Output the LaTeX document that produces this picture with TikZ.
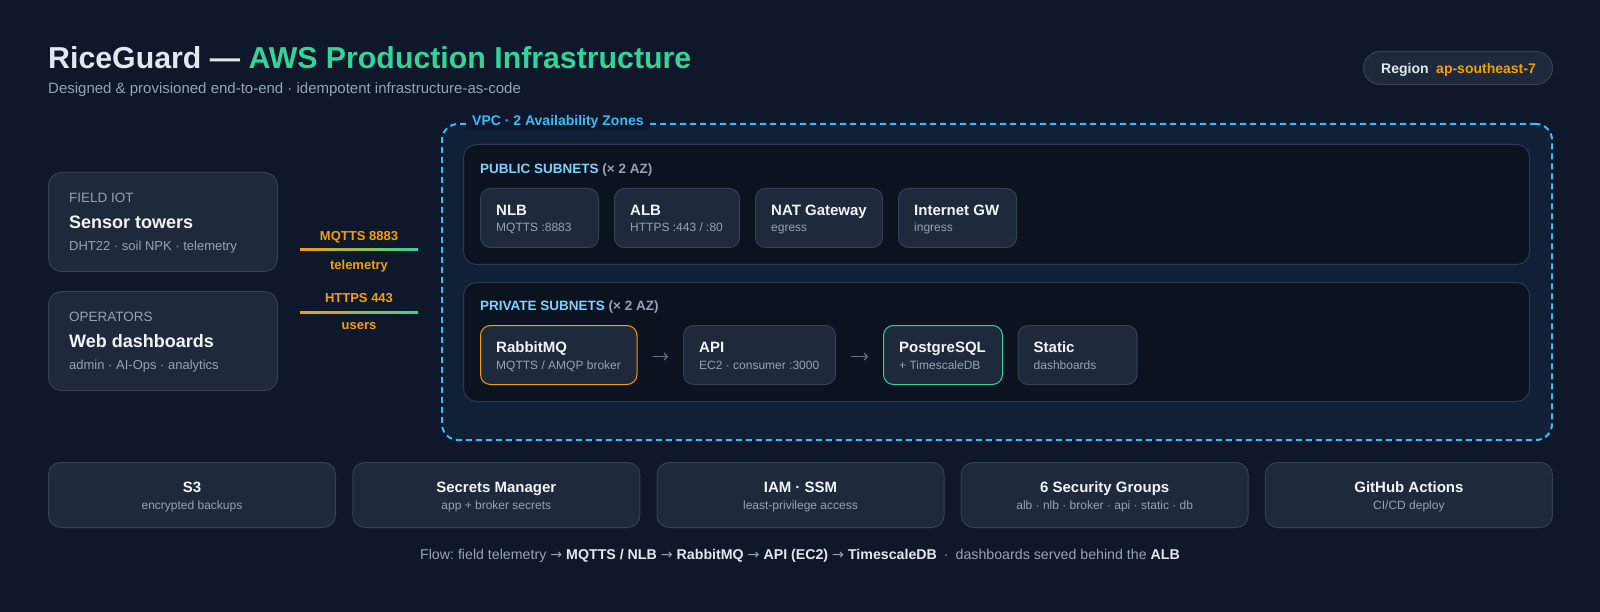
\documentclass[tikz,border=0pt]{standalone}
\usepackage{fontspec}
\setmainfont{Liberation Sans}
\newfontfamily\arrowfont{DejaVu Sans}
\usetikzlibrary{arrows.meta}
\definecolor{bgc}{HTML}{0F172A}
\definecolor{cardfill}{HTML}{1E293B}
\definecolor{cardline}{HTML}{334155}
\definecolor{vpcfill}{HTML}{111F37}
\definecolor{subfill}{HTML}{0B1220}
\definecolor{subline}{HTML}{2B3A50}
\definecolor{sky}{HTML}{38BDF8}
\definecolor{skylt}{HTML}{7DD3FC}
\definecolor{muted}{HTML}{94A3B8}
\definecolor{textc}{HTML}{E2E8F0}
\definecolor{titlec}{HTML}{F1F5F9}
\definecolor{amber}{HTML}{F59E0B}
\definecolor{emerald}{HTML}{34D399}
\definecolor{arrowc}{HTML}{64748B}
\newcommand{\fsz}[1]{\fontsize{#1}{#1}\selectfont}
\newcommand{\ra}{{\arrowfont →}}
\newcommand{\svcbox}[7]{%
  \node[svc, minimum width=#4pt, #7] (#1) at (#2,#3) {};
  \node[lbl, font=\fsz{15}\bfseries, text=titlec] (#1-t) at ([xshift=16pt,yshift=-27.5pt]#1.north west) {#5};
  \node[lbl, font=\fsz{12}, text=muted] (#1-s) at ([xshift=16pt,yshift=-44pt]#1.north west) {#6};
}
\newcommand{\botbox}[4]{%
  \node[bottomcard] (#1) at (#2,462) {};
  \node[ctr, font=\fsz{15}\bfseries, text=titlec] (#1-t) at ([yshift=-30pt]#1.north) {#3};
  \node[ctr, font=\fsz{12}, text=muted] (#1-s) at ([yshift=-47.3pt]#1.north) {#4};
}
\newcommand{\leftcard}[5]{%
  \node[card, minimum width=229pt, minimum height=99pt] (#1) at (48,#2) {};
  \node[lbl, font=\fsz{13.5}, text=muted] (#1-k) at ([xshift=21pt,yshift=-30.3pt]#1.north west) {#3};
  \node[lbl, font=\fsz{18}\bfseries, text=titlec] (#1-t) at ([xshift=21pt,yshift=-56.4pt]#1.north west) {#4};
  \node[lbl, font=\fsz{13}, text=muted] (#1-s) at ([xshift=21pt,yshift=-78.2pt]#1.north west) {#5};
}
\begin{document}
\frenchspacing
\begin{tikzpicture}[x=1pt,y=-1pt,
  card/.style={draw=cardline, fill=cardfill, line width=1pt, rounded corners=13pt, inner sep=0pt, anchor=north west},
  svc/.style={draw=cardline, fill=cardfill, line width=1pt, rounded corners=10pt, inner sep=0pt, anchor=north west, minimum height=59pt},
  bottomcard/.style={card, rounded corners=12pt, minimum width=287pt, minimum height=65pt},
  subnet/.style={draw=subline, fill=subfill, line width=1pt, rounded corners=13pt, inner sep=0pt, anchor=north west, minimum width=1066pt},
  lbl/.style={inner sep=0pt, anchor=base west},
  ctr/.style={inner sep=0pt, anchor=base},
  flowarrow/.style={draw=arrowc, line width=1.2pt, -{Straight Barb[length=3pt,width=7pt]}, shorten <=15pt, shorten >=15pt},
  linkline/.style={left color=amber, right color=emerald},
  linklbl/.style={ctr, font=\fsz{13}\bfseries, text=amber}
]
\fill[bgc] (0,0) rectangle (1600,612);
\useasboundingbox (0,0) rectangle (1600,612);

% header
\node[lbl, font=\fsz{30.3}\bfseries, text=textc] (title) at (48,68.5) {RiceGuard — \textcolor{emerald}{AWS Production Infrastructure}};
\node[lbl, font=\fsz{15}, text=muted] (subtitle) at (48,93.5) {Designed \& provisioned end-to-end · idempotent infrastructure-as-code};

\node[card, rounded corners=16.5pt, minimum width=189pt, minimum height=33pt] (region) at (1363,51) {};
\node[lbl, font=\fsz{14}\bfseries, text=textc] (regk) at ([xshift=18pt,yshift=-22.3pt]region.north west) {Region};
\node[lbl, font=\fsz{14}\bfseries, text=amber] (regv) at ([xshift=73pt,yshift=-22.3pt]region.north west) {ap-southeast-7};

% left cards
\leftcard{iot}{172}{FIELD IOT}{Sensor towers}{DHT22 · soil NPK · telemetry}
\leftcard{ops}{291}{OPERATORS}{Web dashboards}{admin · AI-Ops · analytics}

% link labels
\coordinate (l1a) at (300,249);
\coordinate (l1b) at (418,251);
\shade[linkline] (l1a) rectangle (l1b);
\node[linklbl] (l1t) at (359,240.4) {MQTTS 8883};
\node[linklbl] (l1s) at (359,269.4) {telemetry};
\coordinate (l2a) at (300,311);
\coordinate (l2b) at (418,313);
\shade[linkline] (l2a) rectangle (l2b);
\node[linklbl] (l2t) at (359,302) {HTTPS 443};
\node[linklbl] (l2s) at (359,329.4) {users};

% VPC
\node[draw=sky, fill=vpcfill, line width=2pt, dash pattern=on 6pt off 4pt, rounded corners=16pt, inner sep=0pt, anchor=north west, minimum width=1110pt, minimum height=316pt] (vpc) at (441,123) {};
\node[fill=bgc, inner xsep=6pt, inner ysep=1pt, anchor=base west, font=\fsz{14}\bfseries, text=sky] (vpclbl) at (466,125.7) {VPC · 2 Availability Zones};

% public subnets
\node[subnet, minimum height=120pt] (pub) at (463,144) {};
\node[lbl, font=\fsz{13.5}\bfseries, text=skylt] (publbl) at ([xshift=17pt,yshift=-29.8pt]pub.north west) {PUBLIC SUBNETS \textcolor{muted}{(× 2 AZ)}};
\svcbox{nlb}{480}{188}{118}{NLB}{MQTTS :8883}{}
\svcbox{alb}{614}{188}{125}{ALB}{HTTPS :443 / :80}{}
\svcbox{nat}{755}{188}{127}{NAT Gateway}{egress}{}
\svcbox{igw}{898}{188}{118}{Internet GW}{ingress}{}

% private subnets
\node[subnet, minimum height=119pt] (priv) at (463,282) {};
\node[lbl, font=\fsz{13.5}\bfseries, text=skylt] (privlbl) at ([xshift=17pt,yshift=-28.5pt]priv.north west) {PRIVATE SUBNETS \textcolor{muted}{(× 2 AZ)}};
\svcbox{rabbit}{480}{325}{156.5}{RabbitMQ}{MQTTS / AMQP broker}{draw=amber}
\svcbox{api}{683}{325}{152}{API}{EC2 · consumer :3000}{}
\svcbox{pg}{883}{325}{119}{PostgreSQL}{+ TimescaleDB}{draw=emerald}
\svcbox{static}{1017.5}{325}{119}{Static}{dashboards}{}
\draw[flowarrow] ([yshift=-1.5pt]rabbit.east) -- ([yshift=-1.5pt]api.west);
\draw[flowarrow] ([yshift=-1.5pt]api.east) -- ([yshift=-1.5pt]pg.west);

% bottom services
\botbox{s3}{48}{S3}{encrypted backups}
\botbox{secrets}{352.3}{Secrets Manager}{app + broker secrets}
\botbox{iam}{656.5}{IAM · SSM}{least-privilege access}
\botbox{sg}{960.7}{6 Security Groups}{alb · nlb · broker · api · static · db}
\botbox{gha}{1264.9}{GitHub Actions}{CI/CD deploy}

% flow footer
\node[ctr, font=\fsz{14.2}, text=muted] (flow) at (800,559.8) {Flow: field telemetry \ra{} \textcolor{textc}{\bfseries MQTTS / NLB} \ra{} \textcolor{textc}{\bfseries RabbitMQ} \ra{} \textcolor{textc}{\bfseries API (EC2)} \ra{} \textcolor{textc}{\bfseries TimescaleDB}\hspace{7pt}·\hspace{7pt}dashboards served behind the \textcolor{textc}{\bfseries ALB}};
\end{tikzpicture}
\end{document}
